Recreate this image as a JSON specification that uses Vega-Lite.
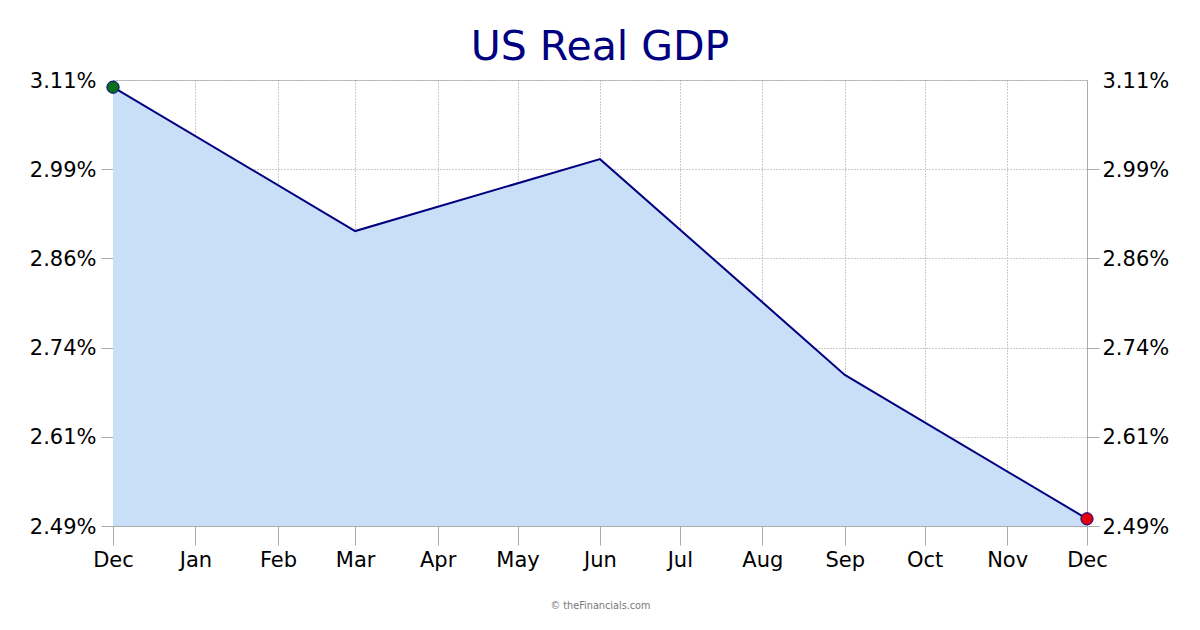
{
  "$schema": "https://vega.github.io/schema/vega-lite/v6.json",
  "title": {
    "text": "US Real GDP",
    "fontSize": 41,
    "fontWeight": "normal",
    "font": "DejaVu Sans",
    "color": "#000080",
    "anchor": "middle",
    "offset": 1
  },
  "width": 974,
  "height": 446,
  "autosize": {"type": "none"},
  "padding": {"left": 113, "top": 80, "right": 113, "bottom": 104},
  "background": "white",
  "config": {
    "view": {"stroke": "#cccccc"},
    "font": "DejaVu Sans",
    "axis": {
      "labelFont": "DejaVu Sans",
      "labelFontSize": 21,
      "labelColor": "#000000",
      "domainColor": "#aaaaaa",
      "tickColor": "#aaaaaa",
      "tickSize": 12,
      "gridColor": "#999999",
      "gridDash": [1, 2],
      "gridWidth": 1,
      "labelPadding": 5
    }
  },
  "data": {
    "values": [
      {"month": "2023-12-01", "gdp": 3.1, "base": 2.49, "marker": "first"},
      {"month": "2024-03-01", "gdp": 2.9, "base": 2.49},
      {"month": "2024-06-01", "gdp": 3.0, "base": 2.49},
      {"month": "2024-09-01", "gdp": 2.7, "base": 2.49},
      {"month": "2024-12-01", "gdp": 2.5, "base": 2.49, "marker": "last"}
    ]
  },
  "encoding": {
    "x": {
      "field": "month",
      "type": "temporal",
      "scale": {"type": "utc", "domain": ["2023-12-01", "2024-12-01"]},
      "axis": {
        "title": "© theFinancials.com",
        "titleFontSize": 9.7,
        "titleFontWeight": "normal",
        "titleColor": "#777777",
        "titlePadding": 30,
        "labelExpr": "utcFormat(datum.value, '%b')",
        "tickCount": "month",
        "grid": true,
        "tickSize": 19,
        "labelPadding": 4,
        "labelFlush": false,
        "labelOverlap": false
      }
    }
  },
  "layer": [
    {
      "mark": {"type": "area", "color": "#c9dff7", "opacity": 1},
      "encoding": {
        "y": {
          "field": "gdp",
          "type": "quantitative",
          "scale": {"domain": [2.49, 3.11], "zero": false},
          "axis": {
            "title": null,
            "orient": "left",
            "values": [2.49, 2.614, 2.738, 2.862, 2.986, 3.11],
            "labelExpr": "format(datum.value, '.2f') + '%'",
            "labelOffset": 1,
            "grid": true,
            "tickOpacity": {"condition": {"test": "datum.value > 3", "value": 0}, "value": 1}
          }
        },
        "y2": {"field": "base"}
      }
    },
    {
      "mark": {"type": "line", "color": "#000080", "strokeWidth": 2},
      "encoding": {
        "y": {
          "field": "gdp",
          "type": "quantitative",
          "scale": {"domain": [2.49, 3.11], "zero": false},
          "axis": {
            "title": null,
            "orient": "right",
            "values": [2.49, 2.614, 2.738, 2.862, 2.986, 3.11],
            "labelExpr": "format(datum.value, '.2f') + '%'",
            "labelOffset": 1,
            "labelPadding": 3,
            "grid": false,
            "tickOpacity": {"condition": {"test": "datum.value > 3", "value": 0}, "value": 1}
          }
        }
      }
    },
    {
      "transform": [{"filter": "isValid(datum.marker)"}],
      "mark": {"type": "point", "filled": true, "size": 150, "stroke": "#000080", "strokeWidth": 1, "opacity": 1},
      "encoding": {
        "y": {
          "field": "gdp",
          "type": "quantitative",
          "scale": {"domain": [2.49, 3.11], "zero": false},
          "axis": null
        },
        "fill": {
          "field": "marker",
          "type": "nominal",
          "scale": {"domain": ["first", "last"], "range": ["#0a6e1a", "#e00010"]},
          "legend": null
        }
      }
    }
  ],
  "resolve": {"scale": {"y": "independent"}}
}
